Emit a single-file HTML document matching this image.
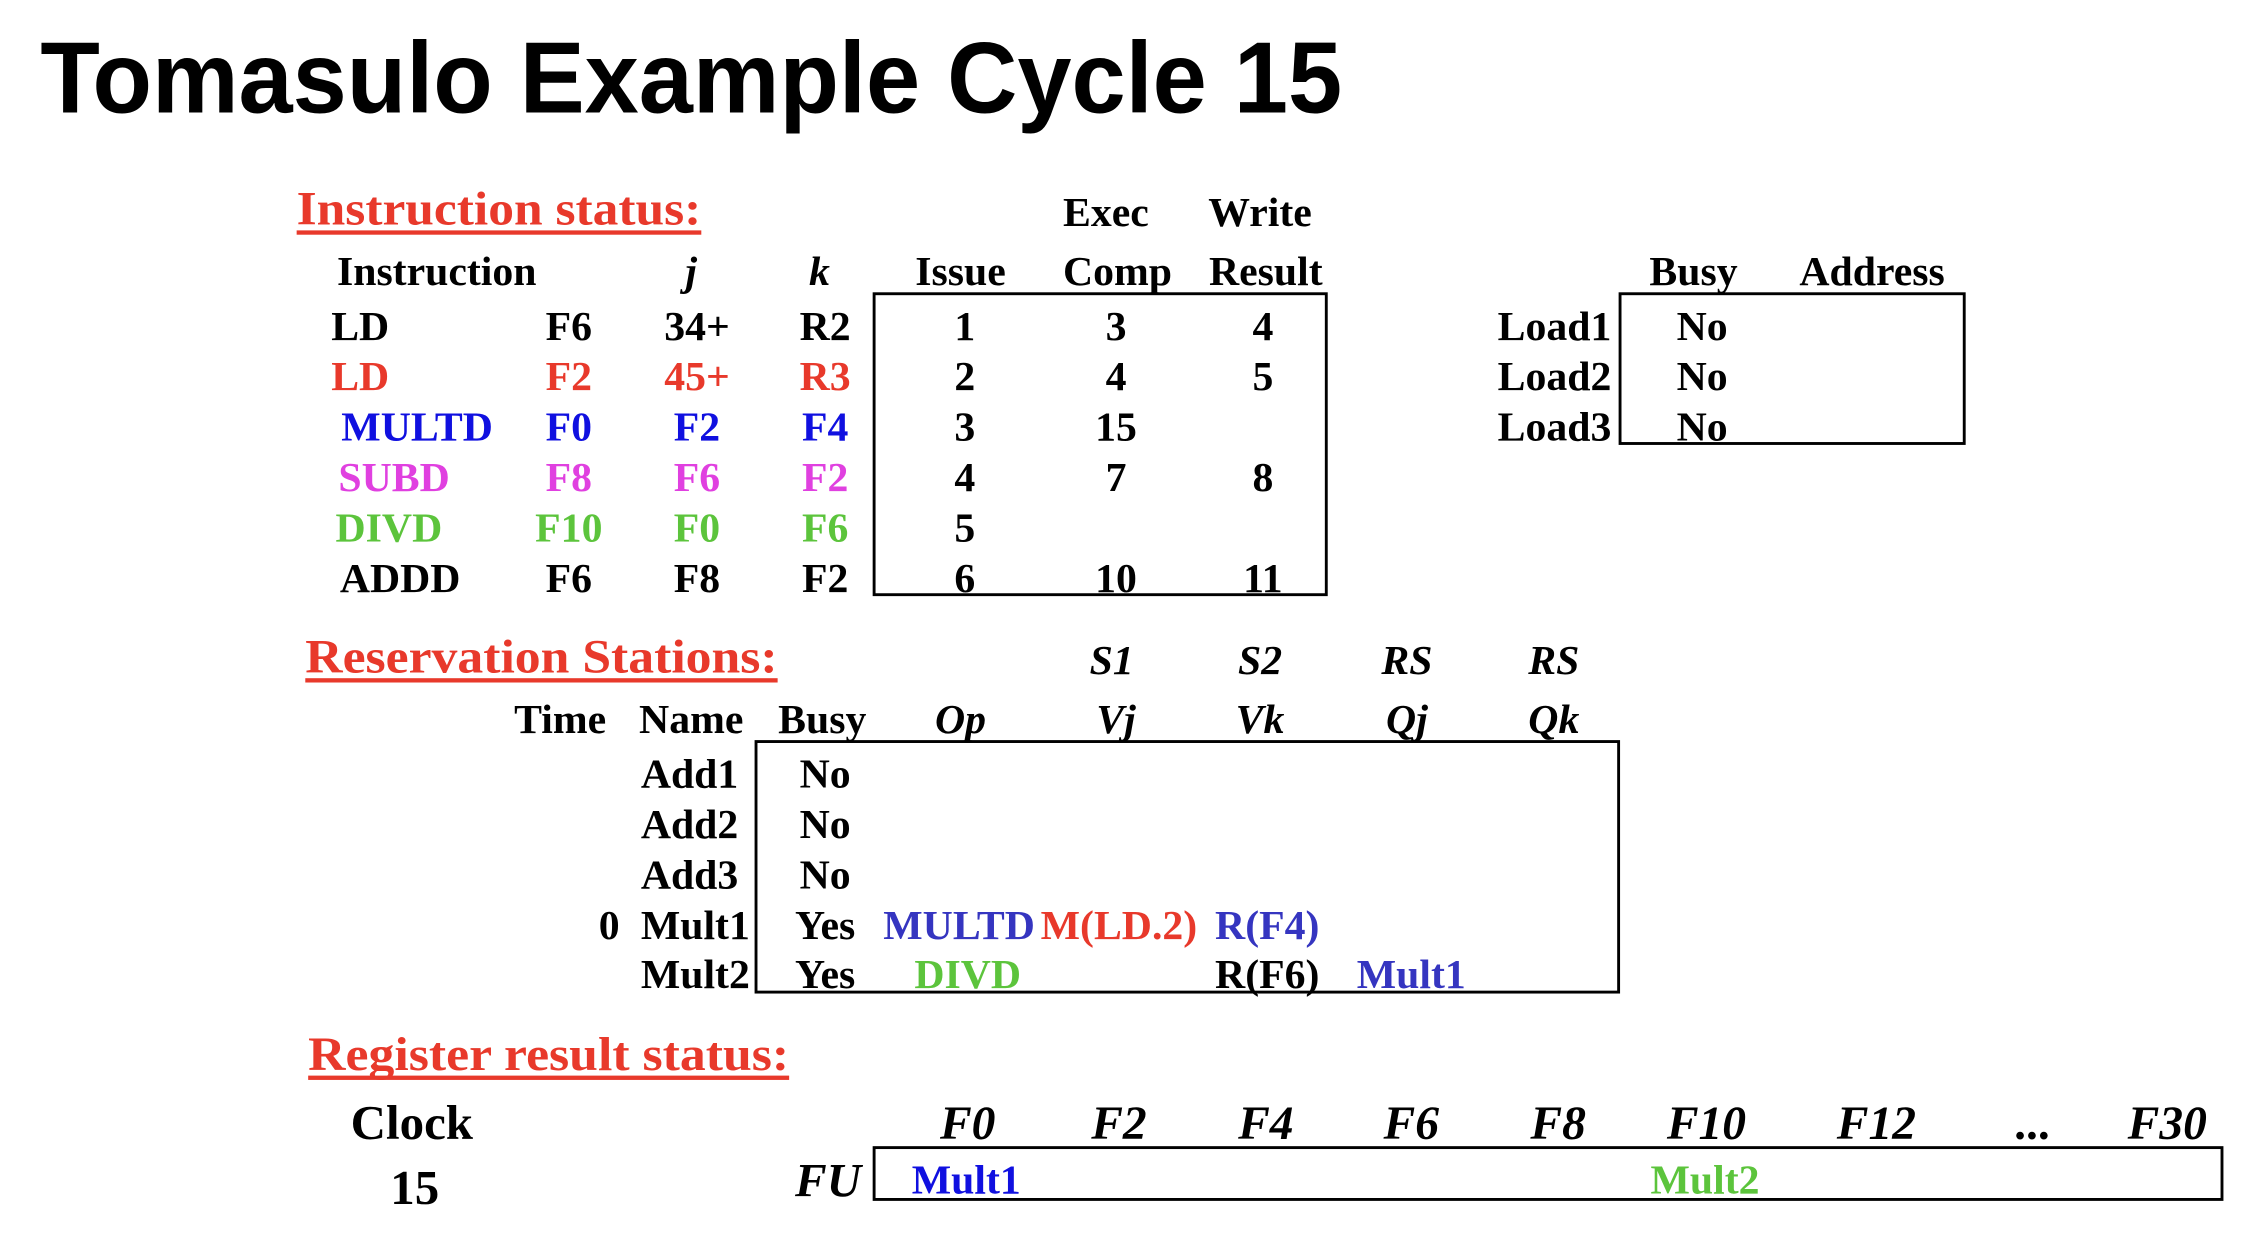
<!DOCTYPE html>
<html><head><meta charset="utf-8"><style>
html,body{margin:0;padding:0;background:#fff;}
svg{display:block;}
text{font-family:"Liberation Serif",serif;font-weight:bold;font-size:29px;}
.t{font-family:"Liberation Sans",sans-serif;}
.i{font-style:italic;}
.m{text-anchor:middle;}
.r{fill:#e8392b;}
.b{fill:#1010e0;}
.p{fill:#e040e0;}
.g{fill:#5cc43c;}
.rb{fill:#3535c0;}
</style></head><body>
<svg width="2258" height="1234" viewBox="0 0 1568 857" preserveAspectRatio="none" xmlns="http://www.w3.org/2000/svg">
<text class="t" x="28" y="78" style="font-size:70px" textLength="904" lengthAdjust="spacingAndGlyphs">Tomasulo Example Cycle 15</text>

<text class="r" x="206" y="156" style="font-size:33px" textLength="281" lengthAdjust="spacingAndGlyphs">Instruction status:</text>
<rect x="206" y="160" width="281" height="3" fill="#e8392b"/>
<text class="m" x="768" y="157">Exec</text>
<text class="m" x="875" y="157">Write</text>
<text x="234" y="198">Instruction</text>
<text class="m i" x="480" y="198">j</text>
<text class="m i" x="569" y="198">k</text>
<text class="m" x="667" y="198">Issue</text>
<text class="m" x="776" y="198">Comp</text>
<text class="m" x="879" y="198">Result</text>
<rect x="607" y="204" width="314" height="209" fill="none" stroke="#000" stroke-width="2"/>

<g>
<text x="230" y="236">LD</text><text class="m" x="395" y="236">F6</text><text class="m" x="484" y="236">34+</text><text class="m" x="573" y="236">R2</text>
<text class="m" x="670" y="236">1</text><text class="m" x="775" y="236">3</text><text class="m" x="877" y="236">4</text>
<text class="r" x="230" y="271">LD</text><text class="m r" x="395" y="271">F2</text><text class="m r" x="484" y="271">45+</text><text class="m r" x="573" y="271">R3</text>
<text class="m" x="670" y="271">2</text><text class="m" x="775" y="271">4</text><text class="m" x="877" y="271">5</text>
<text class="b" x="237" y="306">MULTD</text><text class="m b" x="395" y="306">F0</text><text class="m b" x="484" y="306">F2</text><text class="m b" x="573" y="306">F4</text>
<text class="m" x="670" y="306">3</text><text class="m" x="775" y="306">15</text>
<text class="p" x="235" y="341">SUBD</text><text class="m p" x="395" y="341">F8</text><text class="m p" x="484" y="341">F6</text><text class="m p" x="573" y="341">F2</text>
<text class="m" x="670" y="341">4</text><text class="m" x="775" y="341">7</text><text class="m" x="877" y="341">8</text>
<text class="g" x="233" y="376">DIVD</text><text class="m g" x="395" y="376">F10</text><text class="m g" x="484" y="376">F0</text><text class="m g" x="573" y="376">F6</text>
<text class="m" x="670" y="376">5</text>
<text x="236" y="411">ADDD</text><text class="m" x="395" y="411">F6</text><text class="m" x="484" y="411">F8</text><text class="m" x="573" y="411">F2</text>
<text class="m" x="670" y="411">6</text><text class="m" x="775" y="411">10</text><text class="m" x="877" y="411">11</text>
</g>

<text class="m" x="1176" y="198">Busy</text>
<text class="m" x="1300" y="198">Address</text>
<rect x="1125" y="204" width="239" height="104" fill="none" stroke="#000" stroke-width="2"/>
<text x="1040" y="236">Load1</text><text class="m" x="1182" y="236">No</text>
<text x="1040" y="271">Load2</text><text class="m" x="1182" y="271">No</text>
<text x="1040" y="306">Load3</text><text class="m" x="1182" y="306">No</text>

<text class="r" x="212" y="467" style="font-size:33px" textLength="328" lengthAdjust="spacingAndGlyphs">Reservation Stations:</text>
<rect x="212" y="471" width="328" height="3" fill="#e8392b"/>
<text class="m i" x="772" y="468">S1</text>
<text class="m i" x="875" y="468">S2</text>
<text class="m i" x="977" y="468">RS</text>
<text class="m i" x="1079" y="468">RS</text>
<text class="m" x="389" y="509">Time</text>
<text class="m" x="480" y="509">Name</text>
<text class="m" x="571" y="509">Busy</text>
<text class="m i" x="667" y="509">Op</text>
<text class="m i" x="775" y="509">Vj</text>
<text class="m i" x="875" y="509">Vk</text>
<text class="m i" x="977" y="509">Qj</text>
<text class="m i" x="1079" y="509">Qk</text>
<rect x="525" y="515" width="599" height="174" fill="none" stroke="#000" stroke-width="2"/>
<text x="445" y="547">Add1</text><text class="m" x="573" y="547">No</text>
<text x="445" y="582">Add2</text><text class="m" x="573" y="582">No</text>
<text x="445" y="617">Add3</text><text class="m" x="573" y="617">No</text>
<text class="m" x="423" y="652">0</text><text x="445" y="652">Mult1</text><text class="m" x="573" y="652">Yes</text>
<text class="m rb" x="666" y="652">MULTD</text><text class="m r" x="777" y="652">M(LD.2)</text><text class="m rb" x="880" y="652">R(F4)</text>
<text x="445" y="686">Mult2</text><text class="m" x="573" y="686">Yes</text>
<text class="m g" x="672" y="686">DIVD</text><text class="m" x="880" y="686">R(F6)</text><text class="m rb" x="980" y="686">Mult1</text>

<text class="r" x="214" y="743" style="font-size:33px" textLength="334" lengthAdjust="spacingAndGlyphs">Register result status:</text>
<rect x="214" y="747" width="334" height="3" fill="#e8392b"/>
<text class="m" x="286" y="791" style="font-size:34px">Clock</text>
<text class="m" x="288" y="836" style="font-size:34px">15</text>
<text class="m i" x="672" y="791" style="font-size:33px">F0</text>
<text class="m i" x="777" y="791" style="font-size:33px">F2</text>
<text class="m i" x="879" y="791" style="font-size:33px">F4</text>
<text class="m i" x="980" y="791" style="font-size:33px">F6</text>
<text class="m i" x="1082" y="791" style="font-size:33px">F8</text>
<text class="m i" x="1185" y="791" style="font-size:33px">F10</text>
<text class="m i" x="1303" y="791" style="font-size:33px">F12</text>
<text class="m" x="1411" y="791" style="font-size:33px">...</text>
<text class="m i" x="1505" y="791" style="font-size:33px">F30</text>
<text class="m i" x="575" y="831" style="font-size:33px">FU</text>
<rect x="607" y="797" width="936" height="36" fill="none" stroke="#000" stroke-width="2"/>
<text class="m b" x="671" y="829">Mult1</text>
<text class="m g" x="1184" y="829">Mult2</text>
</svg>
</body></html>
